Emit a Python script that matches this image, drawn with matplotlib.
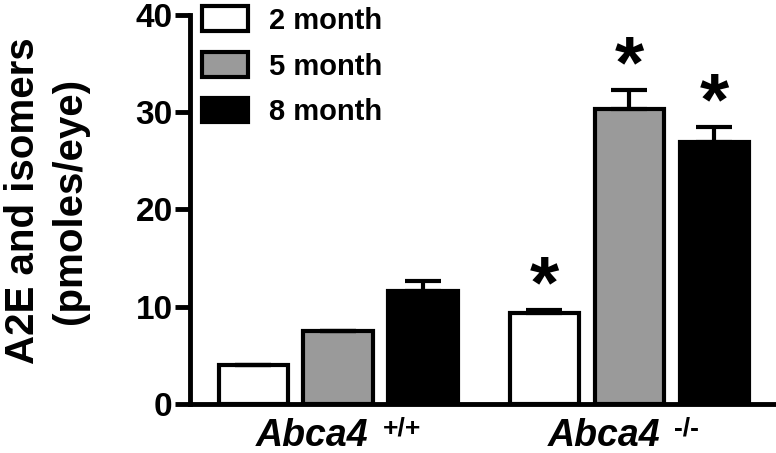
import matplotlib
matplotlib.use("Agg")
import matplotlib.pyplot as plt
import numpy as np

plt.rcParams['font.family'] = ['Liberation Sans', 'DejaVu Sans']
plt.rcParams['font.weight'] = 'bold'

groups = ["Abca4", "Abca4"]
group_sups = ["+/+", "-/-"]
series = ["2 month", "5 month", "8 month"]
values = {
    "2 month": [4.0, 9.4],
    "5 month": [7.5, 30.3],
    "8 month": [11.6, 26.9],
}
errors = {
    "2 month": [0.0, 0.3],
    "5 month": [0.0, 2.0],
    "8 month": [1.0, 1.6],
}
significant = {
    "2 month": [False, True],
    "5 month": [False, True],
    "8 month": [False, True],
}
colors = ["white", "#9a9a9a", "black"]
yticks = [0, 10, 20, 30, 40]

fig = plt.figure(figsize=(7.76, 4.53), dpi=100)
ax = fig.add_axes([190/776, 49/453, 586/776, 389/453])

x = np.arange(len(groups))
step = 0.2916
width = 0.237
for i, s in enumerate(series):
    xs = x + (i - 1) * step
    ax.bar(xs, values[s], width=width, color=colors[i], edgecolor='black',
           linewidth=3, zorder=2)
    ax.errorbar(xs, values[s], yerr=[np.zeros(len(xs)), errors[s]], fmt='none',
                ecolor='black', elinewidth=3, capsize=13, capthick=3, zorder=3)
    for xi, v, e, sig in zip(xs, values[s], errors[s], significant[s]):
        if sig:
            ax.annotate("*", xy=(xi, v + e), xytext=(0, 1.5), textcoords='offset points',
                        ha='center', va='baseline', fontsize=54, fontweight='bold')

ax.set_xlim(-0.508, 1.503)
ax.set_ylim(0, 40)
ax.set_yticks(yticks)
ax.set_yticklabels([str(t) for t in yticks], fontsize=24, fontweight='bold')
ax.tick_params(axis='y', direction='out', length=11, width=3.5, pad=1.5)
ax.set_xticks(x)
ax.set_xticklabels([])
ax.tick_params(axis='x', length=0)
for sp in ['top', 'right']:
    ax.spines[sp].set_visible(False)
for sp in ['left', 'bottom']:
    ax.spines[sp].set_linewidth(3.5)
ax.spines['bottom'].set_capstyle('projecting')

for gx, g, sup in zip(x, groups, group_sups):
    ax.annotate(g, xy=(gx, 0), xycoords=('data', 'axes fraction'),
                xytext=(22, -30), textcoords='offset points', ha='right',
                va='baseline', fontsize=27, fontweight='bold', fontstyle='italic',
                annotation_clip=False)
    ax.annotate(sup, xy=(gx, 0), xycoords=('data', 'axes fraction'),
                xytext=(32, -23), textcoords='offset points', ha='left',
                va='baseline', fontsize=19, fontweight='bold',
                annotation_clip=False)

ax.set_ylabel("A2E and isomers\n(pmoles/eye)", fontsize=29, fontweight='bold',
              linespacing=1.3)
ax.yaxis.set_label_coords(-0.172, 0.522)

handles = [plt.Rectangle((0, 0), 1, 1, facecolor=c, edgecolor='black', linewidth=3)
           for c in colors]
ax.legend(handles, series, loc='upper left', bbox_to_anchor=(0.02, 1.022),
          frameon=False, handlelength=1.6, handleheight=0.93,
          handletextpad=0.72, labelspacing=0.59, borderpad=0, borderaxespad=0,
          prop={'size': 21, 'weight': 'bold'})

fig.savefig("out.png", dpi=100)
